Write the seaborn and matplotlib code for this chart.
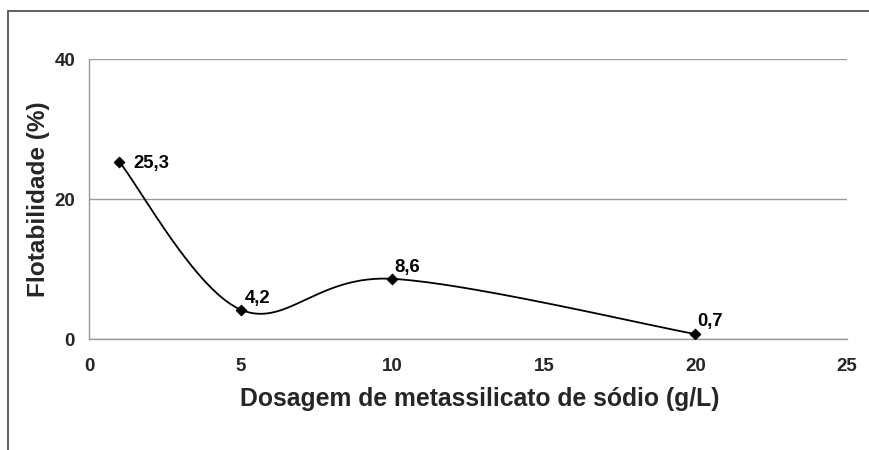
import numpy as np
import pandas as pd
import seaborn as sns
import matplotlib
matplotlib.use("Agg")
import matplotlib.pyplot as plt
from matplotlib.patches import Rectangle

# Data
dosagem = [1, 5, 10, 20]
flotabilidade = [25.3, 4.2, 8.6, 0.7]
rotulos = ["25,3", "4,2", "8,6", "0,7"]
x_ticks = [0, 5, 10, 15, 20, 25]
y_ticks = [0, 20, 40]
x_label = "Dosagem de metassilicato de sódio (g/L)"
y_label = "Flotabilidade (%)"

sns.set_theme(style="white")
plt.rcParams['font.family'] = ['Liberation Sans', 'DejaVu Sans']

fig = plt.figure(figsize=(8.7, 4.5), dpi=100)
ax = fig.add_axes([89/870, 1-339/450, (847-89)/870, (339-59)/450])

# Excel-like smoothing (Bezier, tension 1/6) computed from the data
def smooth(xs, ys, n=60):
    P = np.column_stack([xs, ys]).astype(float)
    Pe = np.vstack([P[0], P, P[-1]])
    out = []
    for i in range(1, len(Pe) - 2):
        p0, p1, p2, p3 = Pe[i-1], Pe[i], Pe[i+1], Pe[i+2]
        c1 = p1 + (p2 - p0) / 6
        c2 = p2 - (p3 - p1) / 6
        t = np.linspace(0, 1, n)[:, None]
        b = (1-t)**3*p1 + 3*(1-t)**2*t*c1 + 3*(1-t)*t**2*c2 + t**3*p2
        out.append(b if i == 1 else b[1:])
    return np.vstack(out)

curve = smooth(dosagem, flotabilidade)
curve_df = pd.DataFrame({"x": curve[:, 0], "y": curve[:, 1]})
sns.lineplot(data=curve_df, x="x", y="y", sort=False, estimator=None, color="black",
             linewidth=1.3, ax=ax)
pts = pd.DataFrame({"x": dosagem, "y": flotabilidade})
sns.scatterplot(data=pts, x="x", y="y", marker="D", s=32, color="black",
                edgecolor="black", ax=ax, zorder=5)

offsets = [(10, -1), (3, 2), (1.5, 2), (1.5, 3)]
for xv, yv, lab, (dx, dy) in zip(dosagem, flotabilidade, rotulos, offsets):
    ax.annotate(lab, (xv, yv), xytext=(dx, dy), textcoords="offset points",
                ha="left", va="center" if xv == dosagem[0] else "bottom",
                fontsize=13.3, fontweight="bold", color="black")

ax.set_xlim(0, 25)
ax.set_ylim(0, 40)
ax.set_xticks(x_ticks)
ax.set_yticks(y_ticks)
ax.yaxis.grid(True, color="#999999", linewidth=1)
ax.xaxis.grid(False)
ax.set_axisbelow(True)
for s in ["top", "right"]:
    ax.spines[s].set_visible(False)
for s in ["left", "bottom"]:
    ax.spines[s].set_color("#999999")
    ax.spines[s].set_linewidth(1)
ax.tick_params(axis="both", which="both", direction="out", length=4, width=1,
               color="#999999", labelsize=13.5, pad=6)
ax.tick_params(axis="x", pad=10)
for lab in ax.get_xticklabels() + ax.get_yticklabels():
    lab.set_fontweight("bold")
ax.set_xlabel(x_label, fontsize=17.8, fontweight="bold")
ax.set_ylabel(y_label, fontsize=17.6, fontweight="bold")
ax.xaxis.set_label_coords((480 - 89) / 758, -(399 - 339) / 280, transform=ax.transAxes)
ax.xaxis.label.set_va("center")
ax.yaxis.set_label_coords(-(89 - 39) / 758, 0.5, transform=ax.transAxes)
ax.yaxis.label.set_va("center")

fig.patches.append(Rectangle((8/870, -0.1), 1.2, (1 - 11/450) + 0.1, transform=fig.transFigure,
                             fill=False, edgecolor="#444444", linewidth=1.2))

fig.savefig("out.png", dpi=100, facecolor="white")
